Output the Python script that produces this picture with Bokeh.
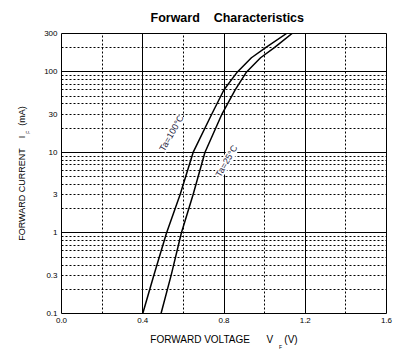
import math
from bokeh.plotting import figure
from bokeh.models import FixedTicker, Grid, Label
from bokeh.embed import file_html
from bokeh.resources import INLINE

# ---------------- data ----------------
current_mA = [0.1, 0.3, 1, 3, 10, 30, 60, 100, 150, 200, 300]
vf_ta100 = [0.400, 0.455, 0.517, 0.584, 0.648, 0.740, 0.800, 0.866, 0.935, 1.005, 1.108]
vf_ta25 = [0.490, 0.540, 0.590, 0.648, 0.706, 0.790, 0.855, 0.911, 0.980, 1.048, 1.135]

x_ticks = [0.0, 0.4, 0.8, 1.2, 1.6]
x_tick_labels = ["0.0", "0.4", "0.8", "1.2", "1.6"]
y_ticks = [0.1, 0.3, 1, 3, 10, 30, 100, 300]
y_tick_labels = ["0.1", "0.3", "1", "3", "10", "30", "100", "300"]

x_grid_solid = [0.4, 0.8, 1.2]
x_grid_dotted = [0.2, 0.6, 1.0, 1.4]
y_grid_solid = [1, 10, 100]
y_grid_dotted = [0.2, 0.3, 0.4, 0.5, 0.6, 0.7, 0.8, 0.9,
                 2, 3, 4, 5, 6, 7, 8, 9,
                 20, 30, 40, 50, 60, 70, 80, 90,
                 200]

title_text = "Forward    Characteristics"
x_title = "FORWARD VOLTAGE      V    (V)"
y_title = "FORWARD CURRENT    I    (mA)"
subscript = "F"
label_100 = "Ta=100°C"
label_25 = "Ta=25°C"

# ---------------- layout ----------------
W, H = 416, 351
FL, FR, FT, FB = 61, 386, 32, 313
X0, X1 = 0.0, 1.6
Y0, Y1 = 0.1, 300.0
FONT = "Liberation Sans"


def nb(s):
    return s.replace(" ", "\u00a0")


def xd(px):
    return X0 + (px - FL) / (FR - FL) * (X1 - X0)


def yd(py):
    l0, l1 = math.log10(Y0), math.log10(Y1)
    return 10 ** (l0 + (FB - py) / (FB - FT) * (l1 - l0))


p = figure(width=W, height=H, x_range=(X0, X1), y_range=(Y0, Y1),
           y_axis_type="log", output_backend="svg", toolbar_location=None,
           min_border_left=FL, min_border_right=W - FR,
           min_border_top=FT, min_border_bottom=H - FB)

p.background_fill_color = "white"
p.border_fill_color = "white"
p.outline_line_color = "black"
p.outline_line_width = 1

p.title.text = nb(title_text)
p.title.align = "left"
p.title.offset = 89
p.title.text_font = FONT
p.title.text_font_size = "12.5px"
p.title.text_font_style = "bold"
p.title.text_color = "black"
p.title.standoff = 17

# axes
p.xaxis.ticker = FixedTicker(ticks=x_ticks)
p.xaxis.major_label_overrides = {t: s for t, s in zip(x_ticks, x_tick_labels)}
p.yaxis.ticker = FixedTicker(ticks=y_ticks)
p.yaxis.major_label_overrides = {t: s for t, s in zip(y_ticks, y_tick_labels)}
for ax in (p.xaxis, p.yaxis):
    ax.axis_line_color = None
    ax.major_tick_line_color = None
    ax.minor_tick_line_color = None
    ax.major_tick_out = 0
    ax.major_tick_in = 0
    ax.minor_tick_out = 0
    ax.minor_tick_in = 0
    ax.major_label_text_font = FONT
    ax.major_label_text_font_size = "8px"
    ax.major_label_text_color = "black"
    ax.major_label_standoff = 4
    ax.axis_label_text_font = FONT
    ax.axis_label_text_font_style = "normal"
    ax.axis_label_text_color = "black"

p.xaxis.axis_label = nb(x_title)
p.xaxis.axis_label_text_font_size = "10px"
p.xaxis.axis_label_standoff = 8
p.yaxis.axis_label = nb(y_title)
p.yaxis.axis_label_text_font_size = "9px"
p.yaxis.axis_label_standoff = 14

# grids
p.xgrid.visible = False
p.ygrid.visible = False
p.add_layout(Grid(dimension=0, ticker=FixedTicker(ticks=x_grid_dotted),
                  grid_line_color="black", grid_line_width=1, grid_line_dash="2 2"))
p.add_layout(Grid(dimension=1, ticker=FixedTicker(ticks=y_grid_dotted),
                  grid_line_color="black", grid_line_width=1, grid_line_dash="2 2"))
p.add_layout(Grid(dimension=0, ticker=FixedTicker(ticks=x_grid_solid),
                  grid_line_color="black", grid_line_width=1))
p.add_layout(Grid(dimension=1, ticker=FixedTicker(ticks=y_grid_solid),
                  grid_line_color="black", grid_line_width=1))

# curves
p.line(vf_ta100, current_mA, line_color="black", line_width=1.5)
p.line(vf_ta25, current_mA, line_color="black", line_width=1.5)

# curve labels
ang = math.radians(60)
for txt, cx, cy in ((label_100, 171, 132), (label_25, 226, 160)):
    p.add_layout(Label(x=xd(cx), y=yd(cy), text=txt, angle=ang,
                       text_align="center", text_baseline="middle",
                       text_font=FONT, text_font_size="9px", text_color="#1e2440",
                       background_fill_color="white"))

# subscripts "F" of V_F and I_F (side-panel labels are not clipped to the frame)
for px, py, a in ((278.5, 347, 0.0), (27.5, 132.5, math.pi / 2)):
    p.add_layout(Label(x=xd(px), y=yd(py), angle=a, text=subscript,
                       text_align="left", text_baseline="alphabetic",
                       text_font=FONT, text_font_size="5px", text_color="black"),
                 "right")

open("out.html", "w").write(file_html(p, INLINE))
